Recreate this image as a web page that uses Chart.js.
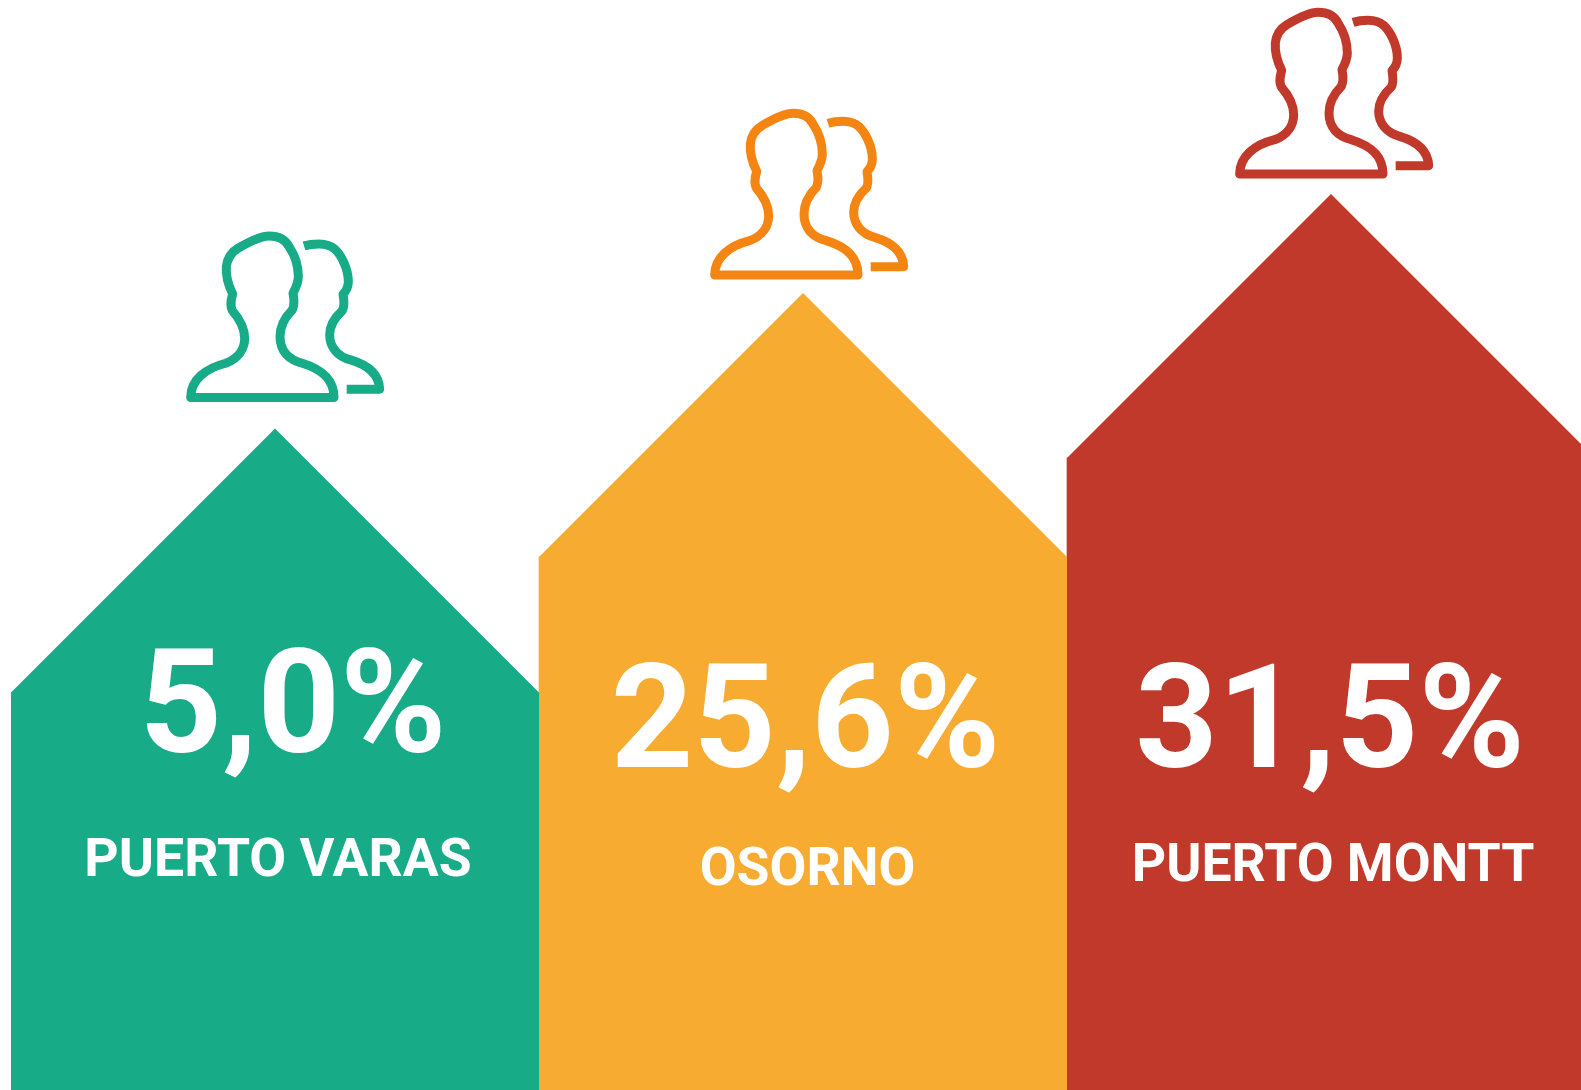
<!DOCTYPE html>
<html>
<head>
<meta charset="utf-8">
<title>Puerto Varas, Osorno, Puerto Montt</title>
<script src="https://cdn.jsdelivr.net/npm/chart.js@4"></script>
<style>
  html, body { margin: 0; padding: 0; background: #fff; overflow: hidden; }
  #wrap { width: 1581px; height: 1090px; overflow: hidden; }
  canvas { display: block; }
</style>
</head>
<body>
<div id="wrap"><canvas id="houses" width="1600" height="1090"></canvas></div>
<script>
const categories = ["PUERTO VARAS", "OSORNO", "PUERTO MONTT"];
// the printed shares
const shares = [5.0, 25.6, 31.5];
// the drawn bar heights (wall height, % of the picture): the original is not to scale with the shares
const barLevels = [36.46, 48.9, 57.98];

const barColors = ["#18ab87", "#f7ab31", "#c0392b"];
const iconColors = ["#18ab87", "#f58512", "#c0392b"];

// text and icon placement relative to each bar centre / roof top
const shareText = [{ dx: 18, y: 751.5 }, { dx: 2.5, y: 766.5 }, { dx: -1, y: 766.5 }];
const nameText = [{ dx: 3, y: 876 }, { dx: 4.5, y: 885 }, { dx: 2, y: 881 }];
const iconPlace = [{ dx: -89, dy: -27 }, { dx: -93, dy: -14 }, { dx: -96, dy: -16 }];

// two people outline, traced at 3x, origin at the icon's top left
const frontPerson = new Path2D("M14 498 L444 498 C444 440 404 412 349 395 C309 385 282 360 282 315 C282 280 299 255 319 235 C326 220 324 200 321 185 C329 170 337 155 337 135 C337 105 329 75 309 45 C299 25 279 13 249 13 C222 13 190 30 156 50 C139 60 124 80 121 105 C119 135 129 165 140 187 C136 200 132 225 139 237 C159 260 176 285 176 320 C176 350 159 380 119 395 C59 410 14 445 14 498 Z");
const backPerson = new Path2D("M354 43 C370 38 385 37 399 37 C420 37 435 42 447 53 C465 70 487 110 487 150 C487 165 481 178 471 188 C474 205 476 225 469 237 C449 255 431 280 431 310 C431 345 454 375 494 385 C544 400 579 425 581 473 L482 473");

const houseShape = {
  id: "houseShape",
  afterDatasetsDraw(chart) {
    const ctx = chart.ctx;
    const bottom = chart.chartArea.bottom;
    chart.getDatasetMeta(0).data.forEach(function (bar, i) {
      const half = bar.width / 2;
      const roofTop = bar.y - half;

      // bar gets its roof, 45 degrees
      ctx.save();
      ctx.fillStyle = barColors[i];
      ctx.beginPath();
      ctx.moveTo(bar.x - half, bottom);
      ctx.lineTo(bar.x - half, bar.y);
      ctx.lineTo(bar.x, roofTop);
      ctx.lineTo(bar.x + half, bar.y);
      ctx.lineTo(bar.x + half, bottom);
      ctx.closePath();
      ctx.fill();

      // labels
      ctx.fillStyle = "#fff";
      ctx.textAlign = "center";
      ctx.textBaseline = "alphabetic";
      ctx.font = "700 144px Roboto";
      ctx.fillText(shares[i].toFixed(1).replace(".", ",") + "%", bar.x + shareText[i].dx, shareText[i].y);
      ctx.font = "700 53.5px Roboto";
      ctx.fillText(categories[i], bar.x + nameText[i].dx, nameText[i].y);
      ctx.restore();

      // people icon above the roof
      ctx.save();
      ctx.translate(bar.x + iconPlace[i].dx, roofTop + iconPlace[i].dy - 170);
      ctx.scale(1 / 3, 1 / 3);
      ctx.strokeStyle = iconColors[i];
      ctx.lineWidth = 27;
      ctx.lineJoin = "round";
      ctx.stroke(frontPerson);
      ctx.stroke(backPerson);
      ctx.restore();
    });
  }
};

new Chart(document.getElementById("houses"), {
  type: "bar",
  data: {
    labels: categories,
    datasets: [{
      data: barLevels,
      backgroundColor: barColors,
      barPercentage: 1,
      categoryPercentage: 1,
      borderWidth: 0
    }]
  },
  options: {
    responsive: false,
    animation: false,
    events: [],
    layout: { padding: { left: 11, right: 5, top: 0, bottom: 0 } },
    plugins: { legend: { display: false }, tooltip: { enabled: false } },
    scales: {
      x: { display: false },
      y: { display: false, min: 0, max: 100 }
    }
  },
  plugins: [houseShape]
});
</script>
</body>
</html>
